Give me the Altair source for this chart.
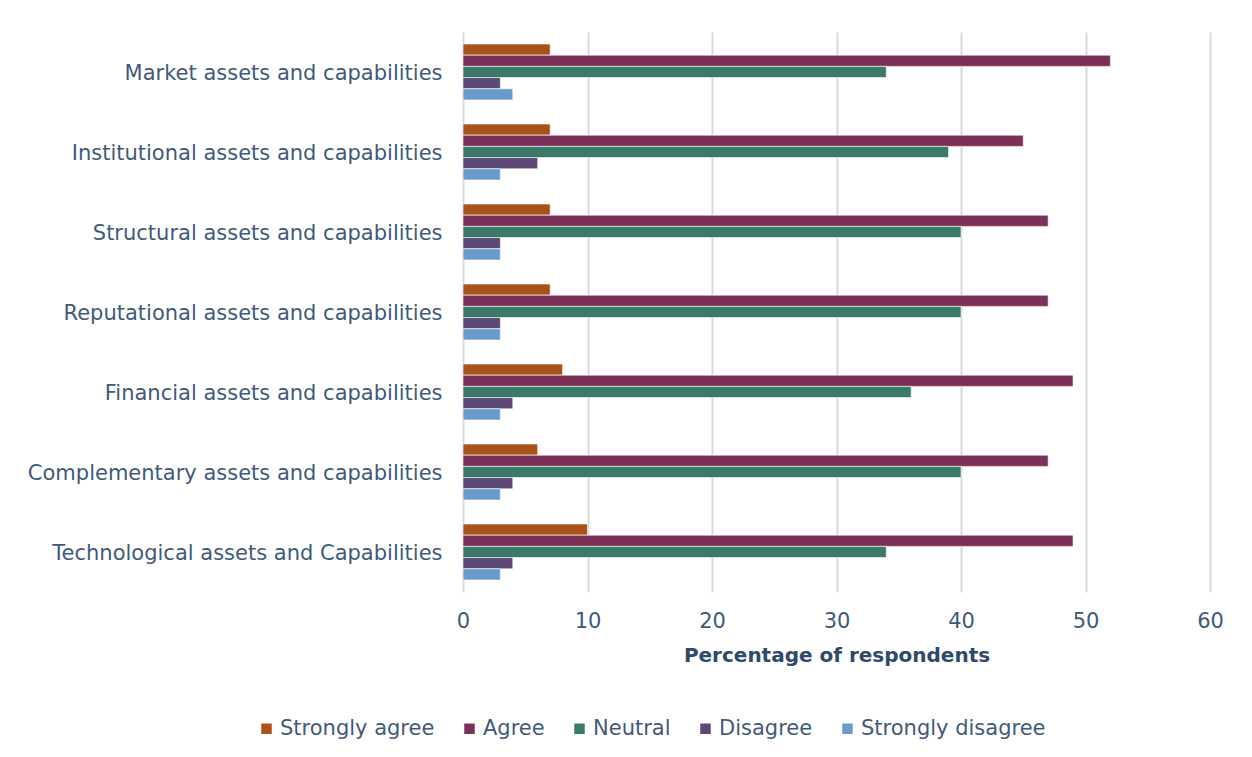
import altair as alt
import pandas as pd

categories = [
    "Market assets and capabilities",
    "Institutional assets and capabilities",
    "Structural assets and capabilities",
    "Reputational assets and capabilities",
    "Financial assets and capabilities",
    "Complementary assets and capabilities",
    "Technological assets and Capabilities",
]
series = ["Strongly agree", "Agree", "Neutral", "Disagree", "Strongly disagree"]
colors = ["#A9531A", "#7D3057", "#3A7A68", "#5E4878", "#6A9BCC"]

strongly_agree = [7, 7, 7, 7, 8, 6, 10]
agree = [52, 45, 47, 47, 49, 47, 49]
neutral = [34, 39, 40, 40, 36, 40, 34]
disagree = [3, 6, 3, 3, 4, 4, 4]
strongly_disagree = [4, 3, 3, 3, 3, 3, 3]

values = [strongly_agree, agree, neutral, disagree, strongly_disagree]
rows = []
for s, vals in zip(series, values):
    for c, v in zip(categories, vals):
        rows.append({"Category": c, "Response": s, "Value": v})
df = pd.DataFrame(rows)

FONT = "DejaVu Sans"
TXT = "#3F5A7A"
FS = 21

chart = alt.Chart(df).mark_bar(stroke="white", strokeWidth=0.6).encode(
    x=alt.X(
        "Value:Q",
        scale=alt.Scale(domain=[0, 60], nice=False),
        axis=alt.Axis(
            values=[0, 10, 20, 30, 40, 50, 60],
            title="Percentage of respondents",
            titleFontWeight="bold",
            titleFontSize=20,
            titleColor="#2E4A6B",
            titlePadding=14,
            labelFontSize=FS,
            labelColor=TXT,
            labelPadding=18,
            labelFlush=False,
            ticks=False,
            domain=False,
            grid=True,
            gridColor="#D9D9D9",
            gridWidth=2,
        ),
    ),
    y=alt.Y(
        "Category:N",
        sort=categories,
        scale=alt.Scale(paddingInner=0.3, paddingOuter=0.15),
        axis=alt.Axis(
            title=None,
            labelFontSize=FS,
            labelColor=TXT,
            labelPadding=21,
            labelOffset=2,
            ticks=False,
            domain=False,
            grid=False,
            labelLimit=600,
        ),
    ),
    yOffset=alt.YOffset("Response:N", sort=series, scale=alt.Scale(paddingInner=0)),
    color=alt.Color(
        "Response:N",
        sort=series,
        scale=alt.Scale(domain=series, range=colors),
        legend=alt.Legend(
            title=None,
            orient="none",
            direction="horizontal",
            legendX=-207,
            legendY=686,
            symbolType="square",
            symbolSize=110,
            symbolStrokeWidth=0,
            labelFontSize=FS,
            labelColor=TXT,
            labelOffset=3,
            labelLimit=400,
            columnPadding=24,
        ),
    ),
).properties(
    width=747,
    height=560,
    autosize="none",
    padding={"left": 455, "top": 24, "right": 34, "bottom": 150},
).configure(
    font=FONT,
    background="white",
).configure_view(stroke=None)

chart.save("out.html", embed_options={"renderer": "svg", "actions": False})
